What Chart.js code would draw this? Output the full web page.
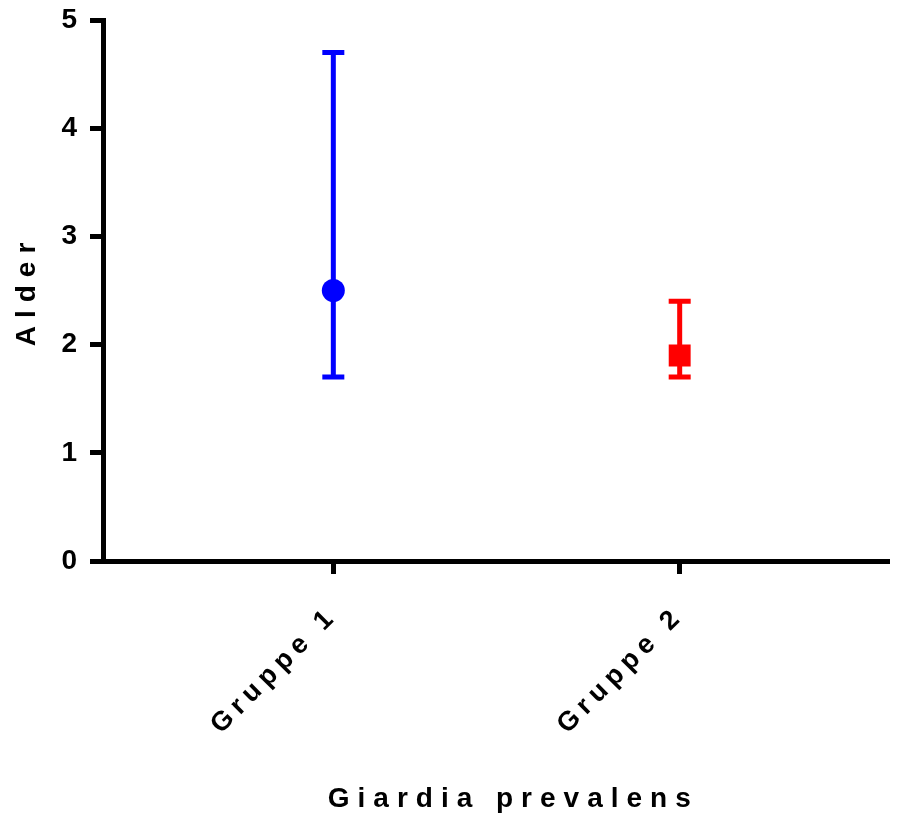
<!DOCTYPE html>
<html>
<head>
<meta charset="utf-8">
<script src="https://cdn.jsdelivr.net/npm/chart.js@4"></script>
<style>
  html, body { margin: 0; padding: 0; background: #fff; }
  #wrap { width: 903px; height: 819px; }
</style>
</head>
<body>
<div id="wrap"><canvas id="err-chart"></canvas></div>
<script>
// data
const groups = ["Gruppe 1", "Gruppe 2"];
const means = [2.5, 1.9];
const lows = [1.7, 1.7];
const highs = [4.7, 2.4];
const yTicks = [0, 1, 2, 3, 4, 5];

const colors = ["#0000ff", "#ff0000"];
const FONT = "'Liberation Sans', Arial, sans-serif";
const SPACING = "8px";
const TICK_SPACING = "6px";

// wide letter spacing like the original export
const spacing = {
  id: "spacing",
  beforeUpdate(chart) { chart.ctx.letterSpacing = SPACING; },
  beforeDraw(chart) { chart.ctx.letterSpacing = SPACING; },
  afterLayout(chart) {
    // x tick labels are a bit tighter than the titles
    const s = chart.scales.x;
    if (s._tightLabels) return;
    const orig = s.drawLabels;
    s.drawLabels = function (area) {
      const prev = this.ctx.letterSpacing;
      this.ctx.letterSpacing = TICK_SPACING;
      orig.call(this, area);
      this.ctx.letterSpacing = prev;
    };
    s._tightLabels = true;
  }
};

// error bars drawn from the scales
const errorBars = {
  id: "errorBars",
  beforeDatasetsDraw(chart) {
    const ctx = chart.ctx;
    const x = chart.scales.x, y = chart.scales.y;
    ctx.save();
    ctx.lineWidth = 5;
    groups.forEach((g, i) => {
      const px = x.getPixelForValue(i + 1);
      const top = y.getPixelForValue(highs[i]);
      const bot = y.getPixelForValue(lows[i]);
      ctx.strokeStyle = colors[i];
      ctx.beginPath();
      ctx.moveTo(px, top);
      ctx.lineTo(px, bot);
      ctx.moveTo(px - 11, top);
      ctx.lineTo(px + 11, top);
      ctx.moveTo(px - 11, bot);
      ctx.lineTo(px + 11, bot);
      ctx.stroke();
    });
    ctx.restore();
  }
};

new Chart(document.getElementById("err-chart"), {
  type: "scatter",
  data: {
    datasets: [{
      data: means.map((m, i) => ({ x: i + 1, y: m })),
      pointStyle: ["circle", "rect"],
      pointRadius: [11.5, 15.5],
      pointHoverRadius: [11.5, 15.5],
      pointBorderWidth: 0,
      backgroundColor: colors,
      borderColor: colors
    }]
  },
  plugins: [spacing, errorBars],
  options: {
    responsive: true,
    maintainAspectRatio: false,
    animation: false,
    layout: { padding: { top: 20, right: 15, bottom: 0, left: 0 } },
    plugins: { legend: { display: false }, tooltip: { enabled: false } },
    scales: {
      x: {
        type: "linear",
        min: 0.335,
        max: 2.6,
        afterBuildTicks: s => { s.ticks = groups.map((g, i) => ({ value: i + 1 })); },
        afterFit: s => { s.height = 258; },
        grid: { drawOnChartArea: false, color: "#000", lineWidth: 5, tickLength: 13 },
        border: { color: "#000", width: 5 },
        ticks: {
          minRotation: 45, maxRotation: 45,
          color: "#000",
          padding: 26,
          font: { family: FONT, size: 27, weight: "bold" },
          callback: v => groups[v - 1]
        },
        title: {
          display: true,
          text: "\u2003Giardia prevalens",
          color: "#000",
          font: { family: FONT, size: 28, weight: "bold" },
          padding: { top: 0, bottom: 3 }
        }
      },
      y: {
        min: 0,
        max: 5,
        afterBuildTicks: s => { s.ticks = yTicks.map(v => ({ value: v })); },
        afterFit: s => { s.width = 103; s.paddingTop = 0; s.paddingBottom = 0; },
        grid: { drawOnChartArea: false, color: "#000", lineWidth: 5, tickLength: 13 },
        border: { color: "#000", width: 5 },
        ticks: {
          color: "#000",
          padding: 5,
          font: { family: FONT, size: 28, weight: "bold" }
        },
        title: {
          display: true,
          text: "Alder",
          color: "#000",
          font: { family: FONT, size: 28, weight: "bold" },
          padding: { top: 10, bottom: 0 }
        }
      }
    }
  }
});
</script>
</body>
</html>
